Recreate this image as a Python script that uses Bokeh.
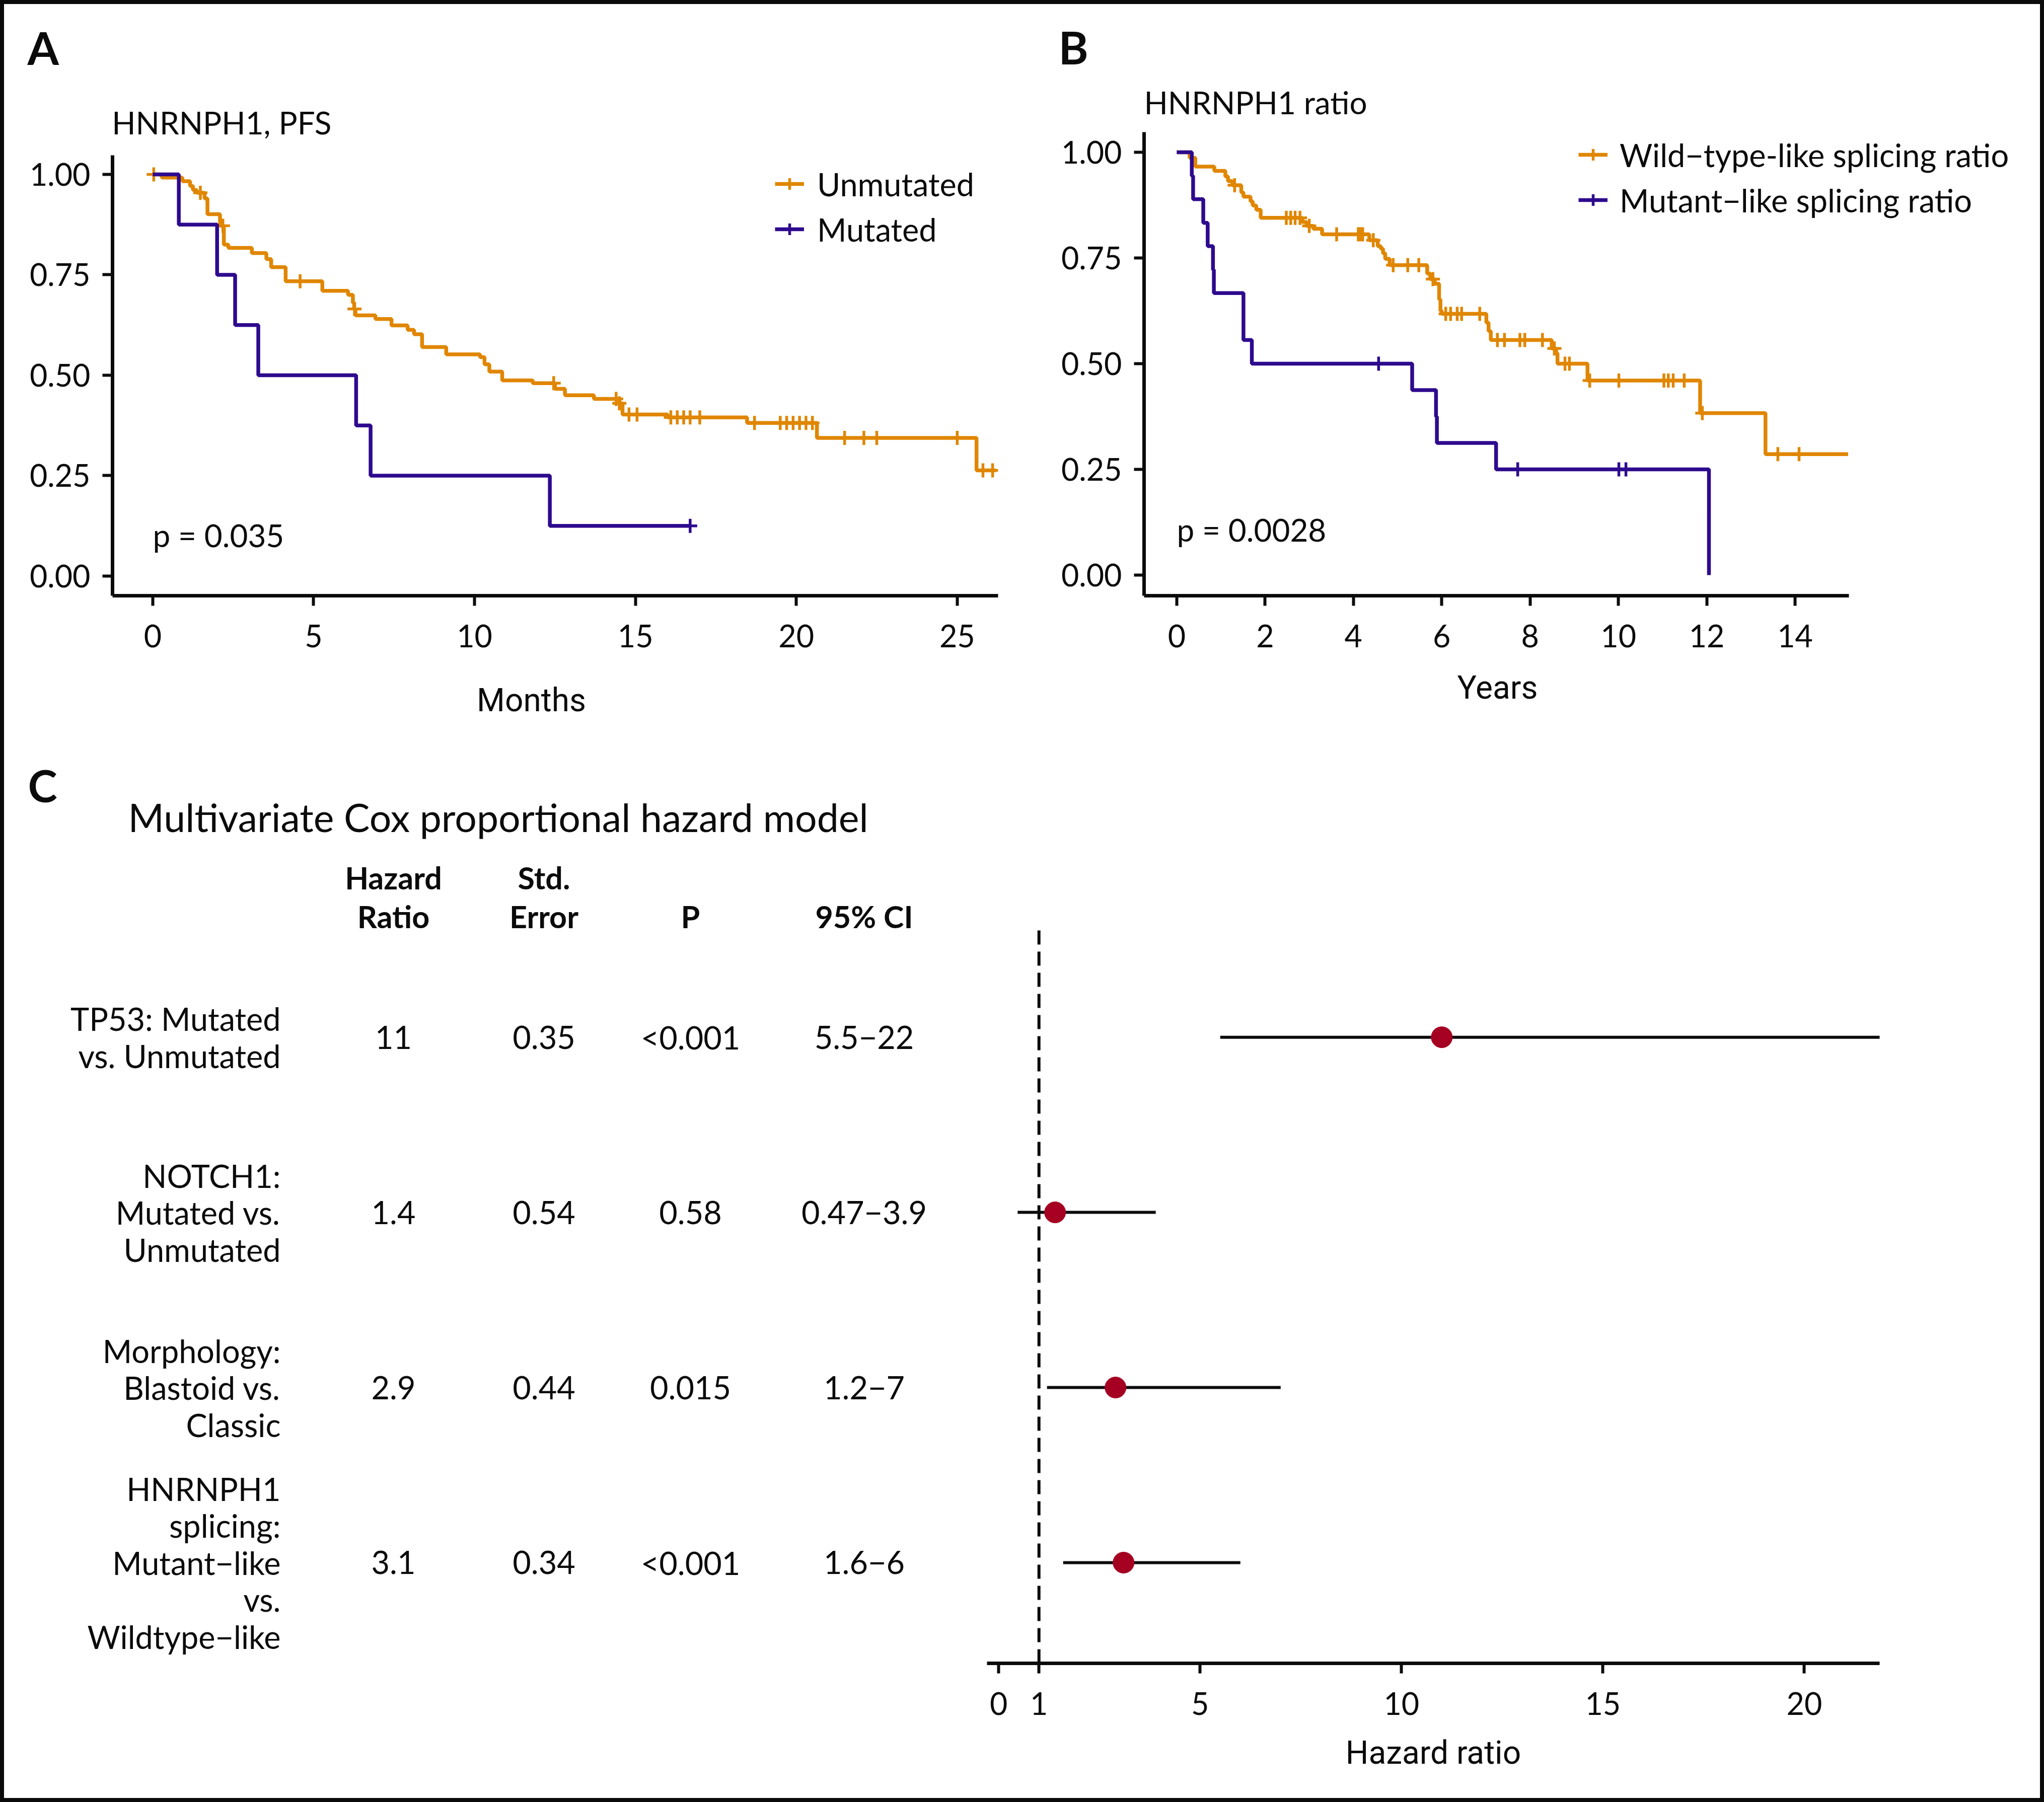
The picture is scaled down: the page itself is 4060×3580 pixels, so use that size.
import numpy as np
from bokeh.plotting import figure
from bokeh.models import (Range1d, FixedTicker, Legend, LegendItem, NumeralTickFormatter)
from bokeh.layouts import column, row
from bokeh.embed import file_html
from bokeh.resources import INLINE
from bokeh.core.properties import value

# ---------------- data ----------------
# Panel A: HNRNPH1, PFS (months)
unmut_t = [0, 0.28, 0.92, 1.16, 1.25, 1.37, 1.61, 1.70, 2.09, 2.21, 2.35, 3.08, 3.53, 3.68, 4.13,
           5.27, 6.07, 6.22, 6.26, 6.30, 6.92, 7.42, 7.92, 8.12, 8.37, 9.12, 10.17, 10.31, 10.46,
           10.86, 11.81, 12.50, 12.81, 13.71, 14.50, 14.60, 16.00, 18.47, 20.64, 25.60]
unmut_s = [1.000, 0.992, 0.983, 0.971, 0.961, 0.954, 0.940, 0.901, 0.872, 0.825, 0.817, 0.804,
           0.789, 0.769, 0.734, 0.710, 0.700, 0.680, 0.665, 0.649, 0.640, 0.624, 0.613, 0.602,
           0.570, 0.552, 0.545, 0.527, 0.509, 0.487, 0.480, 0.466, 0.450, 0.441, 0.430, 0.402,
           0.395, 0.381, 0.344, 0.263]
unmut_end = 26.2
unmut_cens = [0.03, 1.48, 2.18, 4.58, 6.27, 12.46, 14.40, 14.50, 14.80, 15.05, 16.1, 16.3, 16.5,
              16.7, 17.0, 18.7, 19.5, 19.7, 19.9, 20.1, 20.3, 20.5, 21.5, 22.1, 22.5, 25.0, 25.8, 26.1]

mut_t = [0, 0.81, 2.00, 2.56, 3.28, 6.32, 6.77, 12.34]
mut_s = [1.0, 0.875, 0.75, 0.625, 0.5, 0.375, 0.25, 0.125]
mut_end = 16.7
mut_cens = [16.7]

# Panel B: HNRNPH1 ratio (years)
wt_t = [0, 0.29, 0.42, 0.85, 1.10, 1.16, 1.26, 1.46, 1.51, 1.67, 1.72, 1.80, 1.90, 2.84, 2.94,
        3.09, 3.29, 4.36, 4.55, 4.62, 4.67, 4.72, 4.82, 5.67, 5.74, 5.84, 5.94, 5.97, 6.00, 7.01,
        7.06, 7.11, 8.49, 8.59, 8.62, 9.30, 11.85, 13.33]
wt_s = [1.0, 0.987, 0.966, 0.956, 0.943, 0.932, 0.922, 0.905, 0.895, 0.884, 0.874, 0.864, 0.845,
        0.835, 0.826, 0.819, 0.806, 0.792, 0.778, 0.772, 0.761, 0.748, 0.733, 0.713, 0.700, 0.689,
        0.652, 0.625, 0.618, 0.597, 0.577, 0.556, 0.536, 0.525, 0.500, 0.460, 0.383, 0.286]
wt_end = 15.2
wt_cens = [1.31, 2.48, 2.58, 2.68, 2.79, 3.00, 3.62, 4.11, 4.16, 4.21, 4.45, 4.90, 5.23, 5.48,
           5.80, 6.09, 6.20, 6.35, 6.45, 6.86, 7.26, 7.42, 7.77, 7.88, 8.28, 8.55, 8.79, 8.89,
           9.35, 10.01, 11.03, 11.13, 11.24, 11.49, 11.90, 13.61, 14.09]

ml_t = [0, 0.34, 0.37, 0.60, 0.70, 0.82, 0.84, 1.51, 1.70, 5.33, 5.87, 5.89, 7.23, 12.05]
ml_s = [1.0, 0.944, 0.889, 0.833, 0.778, 0.722, 0.667, 0.556, 0.500, 0.4375, 0.375, 0.3125, 0.25, 0.0]
ml_cens = [4.57, 7.72, 10.01, 10.17]

# Panel C: multivariate Cox model
row_labels = ["TP53: Mutated\nvs. Unmutated",
              "NOTCH1:\nMutated vs.\nUnmutated",
              "Morphology:\nBlastoid vs.\nClassic",
              "HNRNPH1\nsplicing:\nMutant\u2212like\nvs.\nWildtype\u2212like"]
row_pos = [4, 3, 2, 1]
hr = [11, 1.4, 2.9, 3.1]
ci_lo = [5.5, 0.47, 1.2, 1.6]
ci_hi = [22, 3.9, 7, 6]
null_hr = 1
hr_txt = ["11", "1.4", "2.9", "3.1"]
se_txt = ["0.35", "0.54", "0.44", "0.34"]
p_txt = ["<0.001", "0.58", "0.015", "<0.001"]
ci_txt = ["5.5\u221222", "0.47\u22123.9", "1.2\u22127", "1.6\u22126"]
header1 = ["Hazard", "Std.", "", ""]
header2 = ["Ratio", "Error", "P", "95% CI"]
hr_ticks = [0, 1, 5, 10, 15, 20]
surv_ticks = [0, 0.25, 0.5, 0.75, 1.0]

# ---------------- style ----------------
ORANGE = "#E08600"
PURPLE = "#2E0A8E"
RED = "#A50021"
INK = "#0b0b0b"
FONT = "Lato"
COND = "Roboto"
PAD = 8            # page frame (border) width


def surv_at(ts, ss, tc):
    idx = np.searchsorted(np.asarray(ts), np.asarray(tc), side="right") - 1
    return np.asarray(ss)[idx]


def base_fig(w, h, xr, yr, **kw):
    p = figure(width=w, height=h, x_range=xr, y_range=yr, output_backend="svg",
               toolbar_location=None, **kw)
    p.outline_line_color = None
    p.background_fill_color = "white"
    p.border_fill_color = "white"
    p.grid.visible = False
    return p


def text_fig(w, x0, y0, y1):
    # axis-less strip whose data coordinates are page pixels
    return base_fig(w, y1 - y0, Range1d(x0, x0 + w), Range1d(y1, y0),
                    x_axis_location=None, y_axis_location=None, min_border_left=0,
                    min_border_right=0, min_border_top=0, min_border_bottom=0)


def style_axis(ax, ticks, standoff):
    ax.ticker = FixedTicker(ticks=ticks)
    ax.axis_line_width = 7
    ax.axis_line_color = INK
    ax.major_tick_line_width = 6
    ax.major_tick_line_color = INK
    ax.major_tick_out = 20
    ax.major_tick_in = 0
    ax.minor_tick_out = 0
    ax.minor_tick_in = 0
    ax.minor_tick_line_color = None
    ax.major_label_text_font = FONT
    ax.major_label_text_font_size = "61px"
    ax.major_label_text_color = INK
    ax.major_label_standoff = standoff


def add_text(p, x, y, t, size, style="normal", align="left", font=FONT):
    p.text(x=[x], y=[y], text=[t], text_font=value(font), text_font_size=size,
           text_font_style=style, text_color=INK, text_align=align, text_baseline="middle")


# frame geometry of the KM panels (page pixels): frames reach the top of the row,
# the axis lines themselves are limited with "bounds"
ROW_TOP, AX_BOT, ROW_BOT, ROW2_BOT = 160, 1183, 1322, 1500
FRAME_H = AX_BOT - ROW_TOP


def km_panel(w, xr, x_bounds, ppu_y, y_bot, mins_lr, xticks, series, leg_loc, leg_standoff):
    yr = Range1d(y_bot, y_bot + FRAME_H / ppu_y)
    p = base_fig(w, ROW_BOT - ROW_TOP, Range1d(*xr), yr,
                 min_border_left=mins_lr[0], min_border_right=mins_lr[1],
                 min_border_top=0, min_border_bottom=ROW_BOT - AX_BOT)
    style_axis(p.xaxis[0], xticks, 37)
    style_axis(p.yaxis[0], surv_ticks, 24)
    p.yaxis[0].formatter = NumeralTickFormatter(format="0.00")
    p.xaxis[0].bounds = x_bounds
    p.yaxis[0].bounds = (y_bot, 1.048)
    items = []
    for (ts, ss, tend, cens, color, name) in series:
        xs = list(ts) + ([tend] if tend is not None else [])
        ys = list(ss) + ([ss[-1]] if tend is not None else [])
        lr = p.step(xs, ys, mode="after", line_color=color, line_width=7.5)
        cy = surv_at(ts, ss, cens)
        sr = p.scatter(cens, cy, marker="cross", size=28, line_width=5.5, line_color=color)
        items.append(LegendItem(label=name, renderers=[lr, sr]))
    leg = Legend(items=items, location=leg_loc, orientation="vertical", glyph_width=58,
                 glyph_height=90, label_height=90, label_standoff=leg_standoff, spacing=0,
                 padding=0, margin=0, border_line_color=None, background_fill_alpha=0,
                 label_text_font=FONT, label_text_font_size="63px", label_text_color=INK)
    p.add_layout(leg)
    return p


pA = km_panel(2030 - PAD, (-1.25, 26.27), (-1.25, 26.27), 798, -0.049, (223 - PAD, 48),
              [0, 5, 10, 15, 20, 25],
              [(unmut_t, unmut_s, unmut_end, unmut_cens, ORANGE, "Unmutated"),
               (mut_t, mut_s, mut_end, mut_cens, PURPLE, "Mutated")],
              (1316, AX_BOT - 500), 26)
add_text(pA, -1.27, 1.130, "HNRNPH1, PFS", "62px")
add_text(pA, 0.0, 0.1015, "p = 0.035", "62px")

pB = km_panel(4052 - 2030, (-0.74, 19.30), (-0.74, 15.22), 840, -0.0488, (242, 22),
              [0, 2, 4, 6, 8, 10, 12, 14],
              [(wt_t, wt_s, wt_end, wt_cens, ORANGE, "Wild\u2212type-like splicing ratio"),
               (ml_t, ml_s, None, ml_cens, PURPLE, "Mutant\u2212like splicing ratio")],
              (863, AX_BOT - 442), 24)
add_text(pB, -0.74, 1.119, "HNRNPH1 ratio", "62px")
add_text(pB, 0.0, 0.108, "p = 0.0028", "62px")

# strip with panel letters (page pixel coordinates)
strip = text_fig(4060 - 2 * PAD, PAD, PAD, ROW_TOP)
add_text(strip, 54, 93, "A", "90px", "bold")
add_text(strip, 2102, 92, "B", "90px", "bold")

# strip with the x axis titles of panels A and B
strip2 = text_fig(4060 - 2 * PAD, PAD, ROW_BOT, ROW2_BOT)
add_text(strip2, 1055, 1391, "Months", "64px", align="center", font=COND)
add_text(strip2, 2974, 1366, "Years", "64px", align="center", font=COND)

# ---------------- panel C ----------------
Y_TOP, Y_BOT = 4.63, 0.425           # dashed reference line / panel extent (rows)
C_TOP, DASH_TOP, C_AX, C_BOT = ROW2_BOT, 1841, 3304, 3580 - PAD
PPU = (C_AX - DASH_TOP) / (Y_TOP - Y_BOT)
yr_c = Range1d(Y_BOT, Y_TOP + (DASH_TOP - C_TOP) / PPU)

pF = base_fig(4052 - 1960, C_BOT - C_TOP, Range1d(-0.29, 21.87), yr_c,
              y_axis_location=None, min_border_left=0, min_border_right=4052 - 3733,
              min_border_top=0, min_border_bottom=C_BOT - C_AX)
style_axis(pF.xaxis[0], hr_ticks, 37)
ax = pF.xaxis[0]
ax.axis_label = "Hazard ratio"
ax.axis_label_text_font = COND
ax.axis_label_text_font_size = "64px"
ax.axis_label_text_font_style = "normal"
ax.axis_label_text_color = INK
ax.axis_label_standoff = 35
pF.segment(x0=[null_hr], y0=[Y_BOT], x1=[null_hr], y1=[Y_TOP], line_color=INK, line_width=6,
           line_dash="28 14")
pF.segment(x0=ci_lo, y0=row_pos, x1=ci_hi, y1=row_pos, line_color=INK, line_width=6)
pF.scatter(hr, row_pos, size=42, fill_color=RED, line_color=RED)

# table figure: x in page pixels, y shares the forest scale
T_W = 1960 - PAD
pT = base_fig(T_W, C_BOT - C_TOP, Range1d(PAD, 1960), yr_c,
              x_axis_location=None, y_axis_location=None,
              min_border_left=0, min_border_right=0, min_border_top=0,
              min_border_bottom=C_BOT - C_AX)


def ty(ref_y):
    return Y_TOP - (ref_y - DASH_TOP) / PPU


col_x = [781, 1080, 1371, 1716]
add_text(pT, 55, ty(1559), "C", "88px", "bold")
add_text(pT, 254, ty(1622), "Multivariate Cox proportional hazard model", "77px")
pT.text(x=col_x, y=[ty(1743)] * 4, text=header1, text_font=value(FONT), text_font_size="61px",
        text_font_style="bold", text_color=INK, text_align="center", text_baseline="middle")
pT.text(x=col_x, y=[ty(1820)] * 4, text=header2, text_font=value(FONT), text_font_size="61px",
        text_font_style="bold", text_color=INK, text_align="center", text_baseline="middle")
pT.text(x=[557] * 4, y=row_pos, text=row_labels, text_font=value(FONT), text_font_size="63px",
        text_color=INK, text_align="right", text_baseline="middle", text_line_height=0.98)
for cx, col in zip(col_x, [hr_txt, se_txt, p_txt, ci_txt]):
    pT.text(x=[cx] * 4, y=row_pos, text=col, text_font=value(FONT), text_font_size="63px",
            text_color=INK, text_align="center", text_baseline="middle")

layout = column(strip, row(pA, pB), strip2, row(pT, pF),
                styles={"border": "8px solid #0b0b0b"})

open("out.html", "w").write(file_html(layout, INLINE))
